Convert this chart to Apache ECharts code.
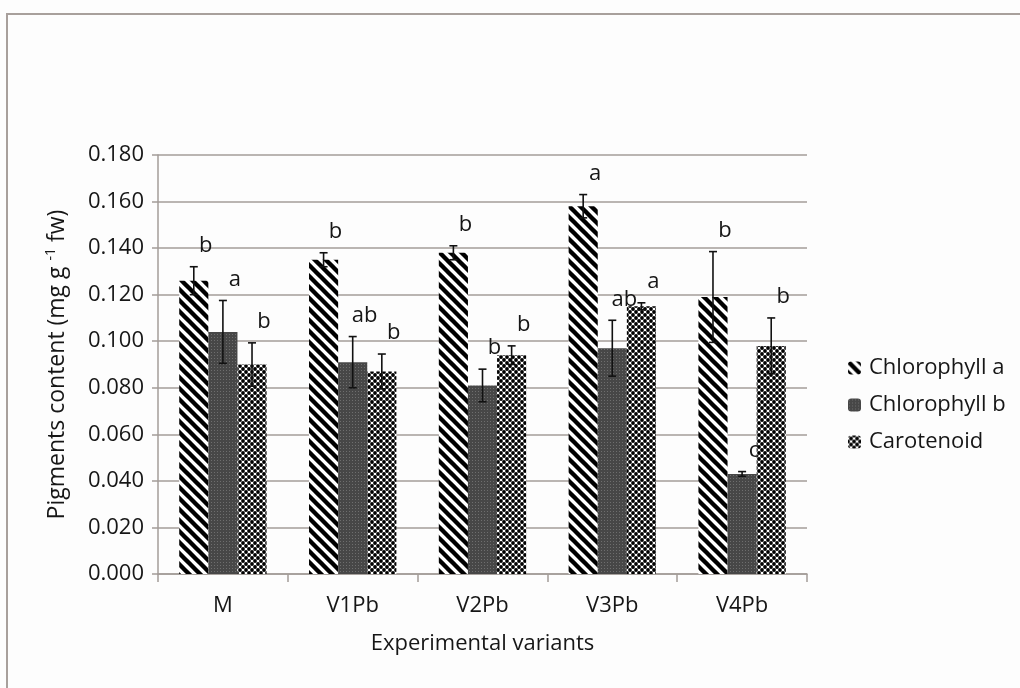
<!DOCTYPE html>
<html>
<head>
<meta charset="utf-8">
<title>Pigments content</title>
<script src="https://cdn.jsdelivr.net/npm/echarts@6/dist/echarts.min.js"></script>
<style>
  html, body { margin: 0; padding: 0; background: #fdfdfd; }
  #chart { width: 1020px; height: 688px; }
</style>
</head>
<body>
<div id="chart"></div>
<script>
// Pigment content per experimental variant (mg g-1 fw), mean and error
const categories = ['M', 'V1Pb', 'V2Pb', 'V3Pb', 'V4Pb'];
const seriesNames = ['Chlorophyll a', 'Chlorophyll b', 'Carotenoid'];
const chlA = [0.126, 0.135, 0.138, 0.158, 0.119];
const chlAErr = [0.006, 0.003, 0.003, 0.005, 0.0195];
const chlB = [0.104, 0.091, 0.081, 0.097, 0.043];
const chlBErr = [0.0135, 0.011, 0.007, 0.012, 0.001];
const carot = [0.090, 0.087, 0.094, 0.115, 0.098];
const carotErr = [0.0093, 0.0075, 0.004, 0.0015, 0.012];
// significance letters above each bar
const chlALetters = ['b', 'b', 'b', 'a', 'b'];
const chlBLetters = ['a', 'ab', 'b', 'ab', 'c'];
const carotLetters = ['b', 'b', 'b', 'a', 'b'];

const FONT = '"Open Sans", "Noto Sans", sans-serif';
const TEXT = '#161616';
const GRID = '#a39c98';
const GAP = 0.327;
const FS = 22;

// fill patterns
function tile(w, h, draw) {
  const c = document.createElement('canvas');
  c.width = w; c.height = h;
  draw(c.getContext('2d'), w, h);
  return c;
}
const stripes = tile(11, 11, (g, w, h) => {
  g.fillStyle = '#ffffff'; g.fillRect(0, 0, w, h);
  g.strokeStyle = '#000000'; g.lineWidth = 4.4; g.lineCap = 'square';
  for (let k = -1; k <= 1; k++) {
    g.beginPath(); g.moveTo(-2, -2 + k * w); g.lineTo(w + 2, h + 2 + k * w); g.stroke();
  }
});
const darkGrain = tile(3, 3, (g) => {
  g.fillStyle = '#474747'; g.fillRect(0, 0, 3, 3);
  g.fillStyle = '#6e6e6e'; g.fillRect(1, 1, 1, 1);
});
const dots = tile(6, 6, (g) => {
  g.fillStyle = '#ffffff'; g.fillRect(0, 0, 6, 6);
  g.fillStyle = '#000000';
  [[0, 0], [6, 0], [0, 6], [6, 6], [3, 3]].forEach(([x, y]) => {
    g.beginPath(); g.arc(x, y, 1.9, 0, Math.PI * 2); g.fill();
  });
});
const fills = [stripes, darkGrain, dots].map(img => ({ image: img, repeat: 'repeat' }));

function barSeries(name, values, idx) {
  return {
    type: 'bar', name: name, data: values,
    barGap: '0%', barCategoryGap: (GAP * 100) + '%',
    itemStyle: { color: fills[idx] },
    z: 2
  };
}

function errorSeries(values, errs, letters, idx) {
  return {
    type: 'custom',
    name: seriesNames[idx] + ' error',
    data: values.map((v, i) => [i, v, errs[i]]),
    encode: { x: 0, y: 1 },
    z: 10,
    silent: true,
    renderItem(params, api) {
      const i = api.value(0), v = api.value(1), e = api.value(2);
      const band = api.size([1, 0])[0];
      const bw = band * (1 - GAP) / 3;
      const x = api.coord([i, v])[0] + (idx - 1) * bw;
      const top = api.coord([i, v + e])[1];
      const bot = api.coord([i, v - e])[1];
      const ls = { stroke: '#111111', lineWidth: 1.6 };
      return {
        type: 'group',
        children: [
          { type: 'line', shape: { x1: x, y1: top, x2: x, y2: bot }, style: ls },
          { type: 'line', shape: { x1: x - 4, y1: top, x2: x + 4, y2: top }, style: ls },
          { type: 'line', shape: { x1: x - 4, y1: bot, x2: x + 4, y2: bot }, style: ls },
          {
            type: 'text', x: x + 12, y: top - 21,
            style: {
              text: letters[params.dataIndex], fill: TEXT, fontSize: FS,
              fontFamily: FONT, align: 'center', verticalAlign: 'middle'
            }
          }
        ]
      };
    }
  };
}

const chart = echarts.init(document.getElementById('chart'));
chart.setOption({
  backgroundColor: '#fdfdfd',
  animation: false,
  textStyle: { fontFamily: FONT },
  graphic: [{
    type: 'rect', silent: true,
    shape: { x: 7, y: 14, width: 1100, height: 800 },
    style: { fill: 'none', stroke: '#a8a09c', lineWidth: 2 }
  }],
  grid: { left: 158, right: 213, top: 155, bottom: 114 },
  legend: {
    data: seriesNames,
    orient: 'vertical',
    left: 843, top: 352,
    itemWidth: 13, itemHeight: 13, itemGap: 15,
    textStyle: { fontSize: FS, color: TEXT, fontFamily: FONT, padding: [0, 0, 0, 3] }
  },
  xAxis: {
    type: 'category',
    data: categories,
    axisLine: { lineStyle: { color: GRID, width: 1.5 } },
    axisTick: { show: true, length: 8, lineStyle: { color: GRID, width: 1.5 } },
    axisLabel: { fontSize: FS, color: TEXT, margin: 21, fontFamily: FONT },
    name: 'Experimental variants',
    nameLocation: 'middle',
    nameGap: 59,
    nameTextStyle: { fontSize: FS, color: TEXT, fontFamily: FONT }
  },
  yAxis: {
    type: 'value',
    min: 0, max: 0.18, interval: 0.02,
    axisLine: { show: true, lineStyle: { color: GRID, width: 1.5 } },
    axisTick: { show: true, length: 6, lineStyle: { color: GRID, width: 1.5 } },
    splitLine: { lineStyle: { color: GRID, width: 1.5 } },
    axisLabel: {
      fontSize: FS, color: TEXT, margin: 14, fontFamily: FONT,
      formatter: v => v.toFixed(3)
    },
    name: '{t|Pigments content (mg g }{s|-1}{t| fw)}',
    nameLocation: 'middle',
    nameRotate: 90,
    nameGap: 87,
    nameTextStyle: {
      rich: {
        t: { fontSize: 23, color: TEXT, fontFamily: FONT },
        s: { fontSize: 14, color: TEXT, fontFamily: FONT, padding: [0, 0, 13, 0] }
      }
    }
  },
  series: [
    barSeries(seriesNames[0], chlA, 0),
    barSeries(seriesNames[1], chlB, 1),
    barSeries(seriesNames[2], carot, 2),
    errorSeries(chlA, chlAErr, chlALetters, 0),
    errorSeries(chlB, chlBErr, chlBLetters, 1),
    errorSeries(carot, carotErr, carotLetters, 2)
  ]
});
</script>
</body>
</html>
